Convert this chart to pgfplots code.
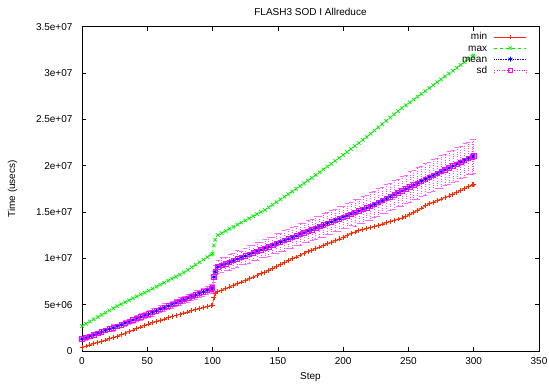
\documentclass[border=0pt]{standalone}
\usepackage{pgfplots}
\pgfplotsset{compat=1.18}
\usepackage{pgfplotstable}
\usepackage{fontspec}
\setmainfont{Liberation Sans}
\definecolor{gred}{RGB}{255,40,0}
\definecolor{ggreen}{RGB}{0,235,0}
\definecolor{gblue}{RGB}{0,0,255}
\definecolor{gmag}{RGB}{255,0,255}
\pgfplotsset{
  longlegend/.style={legend image code/.code={\draw[mark repeat=2,mark phase=2,##1] plot coordinates {(0pt,0pt) (16pt,0pt) (32pt,0pt)};}},
  sdlegend/.style={legend image code/.code={
    \draw[gmag, dotted, line width=0.5pt] (0pt,0pt) -- (32pt,0pt);
    \draw[gmag, dotted, line width=0.5pt] (0pt,-2.5pt) -- (0pt,2.5pt) (32pt,-2.5pt) -- (32pt,2.5pt);
    \draw[gmag, solid, line width=0.6pt, mark=square, mark size=2.2pt] plot coordinates {(16pt,0pt)};}},
}
\pgfplotstableread{
x min max mean sd
0 0.40 2.70 1.30 0.20
3 0.53 2.94 1.45 0.25
6 0.66 3.18 1.60 0.18
9 0.80 3.42 1.76 0.28
12 0.93 3.66 1.92 0.22
15 1.05 3.90 2.08 0.30
18 1.19 4.14 2.23 0.24
21 1.32 4.38 2.38 0.27
24 1.45 4.62 2.52 0.33
27 1.59 4.85 2.67 0.25
30 1.76 5.06 2.84 0.30
33 1.93 5.26 3.01 0.36
36 2.10 5.47 3.18 0.28
39 2.27 5.68 3.35 0.34
42 2.43 5.89 3.52 0.31
45 2.60 6.10 3.69 0.38
48 2.77 6.30 3.85 0.29
51 2.93 6.51 4.01 0.35
54 3.07 6.72 4.18 0.40
57 3.20 6.94 4.35 0.32
60 3.33 7.16 4.52 0.37
63 3.46 7.38 4.69 0.42
66 3.59 7.60 4.86 0.33
69 3.72 7.81 5.03 0.39
72 3.85 8.03 5.20 0.36
75 3.98 8.25 5.37 0.44
78 4.11 8.48 5.55 0.35
81 4.22 8.75 5.72 0.41
84 4.34 9.03 5.89 0.38
87 4.46 9.30 6.06 0.45
90 4.57 9.58 6.22 0.37
93 4.69 9.86 6.39 0.43
96 4.80 10.13 6.56 0.40
99 4.92 10.41 6.73 0.46
100 4.96 10.50 6.80 0.45
101 5.80 11.40 8.00 0.60
102 6.20 12.00 8.56 0.70
104 6.40 12.50 9.10 0.65
107 6.57 12.73 9.27 0.80
110 6.75 12.95 9.43 0.72
113 6.92 13.18 9.60 0.85
116 7.10 13.40 9.76 0.78
119 7.28 13.63 9.93 0.90
122 7.45 13.86 10.10 0.70
125 7.63 14.08 10.26 0.88
128 7.80 14.31 10.43 0.95
131 7.98 14.54 10.60 0.82
134 8.15 14.77 10.76 1.00
137 8.33 15.00 10.93 0.85
140 8.50 15.22 11.10 0.98
143 8.70 15.49 11.26 1.05
146 8.91 15.78 11.43 0.90
149 9.12 16.07 11.60 1.08
152 9.32 16.36 11.76 0.95
155 9.53 16.65 11.93 1.12
158 9.74 16.93 12.10 1.00
161 9.95 17.22 12.26 1.15
164 10.15 17.51 12.43 1.02
167 10.36 17.80 12.60 1.18
170 10.53 18.10 12.77 1.05
173 10.71 18.40 12.94 1.20
176 10.88 18.70 13.10 1.10
179 11.05 19.00 13.27 1.25
182 11.22 19.30 13.44 1.12
185 11.40 19.60 13.61 1.28
188 11.57 19.90 13.78 1.15
191 11.74 20.20 13.94 1.30
194 11.92 20.52 14.11 1.20
197 12.10 20.84 14.28 1.35
200 12.29 21.16 14.44 1.22
203 12.47 21.48 14.61 1.38
206 12.66 21.81 14.78 1.25
209 12.84 22.13 14.94 1.42
212 12.98 22.45 15.12 1.30
215 13.09 22.78 15.29 1.45
218 13.21 23.10 15.46 1.33
221 13.32 23.45 15.64 1.50
224 13.44 23.80 15.82 1.38
227 13.58 24.14 16.03 1.52
230 13.71 24.49 16.24 1.40
233 13.84 24.84 16.45 1.55
236 13.97 25.19 16.66 1.45
239 14.10 25.54 16.87 1.60
242 14.24 25.88 17.08 1.48
245 14.37 26.21 17.29 1.62
248 14.50 26.52 17.50 1.50
251 14.73 26.83 17.71 1.65
254 14.97 27.14 17.92 1.55
257 15.20 27.45 18.12 1.70
260 15.43 27.76 18.33 1.58
263 15.67 28.07 18.54 1.72
266 15.90 28.39 18.75 1.60
269 16.07 28.70 18.95 1.75
272 16.24 29.01 19.16 1.62
275 16.41 29.32 19.37 1.78
278 16.58 29.63 19.57 1.66
281 16.74 29.94 19.77 1.80
284 16.93 30.25 19.97 1.70
287 17.13 30.56 20.18 1.82
290 17.33 30.87 20.38 1.72
293 17.53 31.18 20.58 1.85
296 17.73 31.49 20.78 1.75
299 17.93 31.80 20.98 1.88
300 18.00 31.90 21.05 1.85
}\data
\begin{document}
\begin{tikzpicture}
\useasboundingbox (-82pt,-33pt) rectangle (467pt,351pt);
\begin{axis}[
  at={(0,0)}, anchor=south west,
  scale only axis, width=457pt, height=324.3pt,
  xmin=0, xmax=350, ymin=0, ymax=35,
  font=\fontsize{10}{12}\selectfont,
  axis line style={line width=0.8pt},
  tick style={black, line width=0.6pt},
  major tick length=4.5pt,
  xtick={0,50,100,150,200,250,300,350},
  xticklabels={0,50,100,150,200,250,300,350},
  ytick={0,5,10,15,20,25,30,35},
  yticklabels={0,5e+06,1e+07,1.5e+07,2e+07,2.5e+07,3e+07,3.5e+07},
  xticklabel style={yshift=-3pt},
  yticklabel style={xshift=-6pt},
  title={FLASH3 SOD I Allreduce},
  every axis title/.style={at={(axis description cs:0.5,1.045)},anchor=center},
  xlabel={Step},
  every axis x label/.style={at={(axis description cs:0.5,-0.08)},anchor=center},
  ylabel={Time (usecs)},
  every axis y label/.style={at={(axis description cs:-0.152,0.5)},rotate=90,anchor=center},
  legend plot pos=right,
  legend cell align=right,
  longlegend,
  legend style={draw=none, fill=none, at={(axis description cs:0.9737,0.9815)}, anchor=north east,
    inner sep=0pt, column sep=7pt, row sep=3.1pt,
    nodes={inner sep=0pt, text height=7pt, text depth=1pt},
    font=\fontsize{10}{12}\selectfont},
]
\addplot[color=gred, line width=0.7pt, mark=+, mark size=2.4pt] table[x=x,y=min] {\data};
\addlegendentry{min}
\addplot[color=ggreen, line width=0.7pt, dashed, mark=x, mark size=2.5pt, mark options={solid}] table[x=x,y=max] {\data};
\addlegendentry{max}
\addplot[color=gblue, line width=0.7pt, densely dotted, mark=asterisk, mark size=2.4pt, mark options={solid}] table[x=x,y=mean] {\data};
\addlegendentry{mean}
\addplot[color=gmag, only marks, mark=square, mark size=2.2pt, mark options={solid, line width=0.6pt},
  sdlegend,
  error bars/.cd, y dir=both, y explicit,
  error bar style={color=gmag!75, dotted, line width=0.45pt},
  error mark options={color=gmag!60, solid, mark size=2pt, line width=0.4pt, rotate=90}]
  table[x=x,y=mean,y error=sd] {\data};
\addlegendentry{sd}
\end{axis}
\end{tikzpicture}
\end{document}
